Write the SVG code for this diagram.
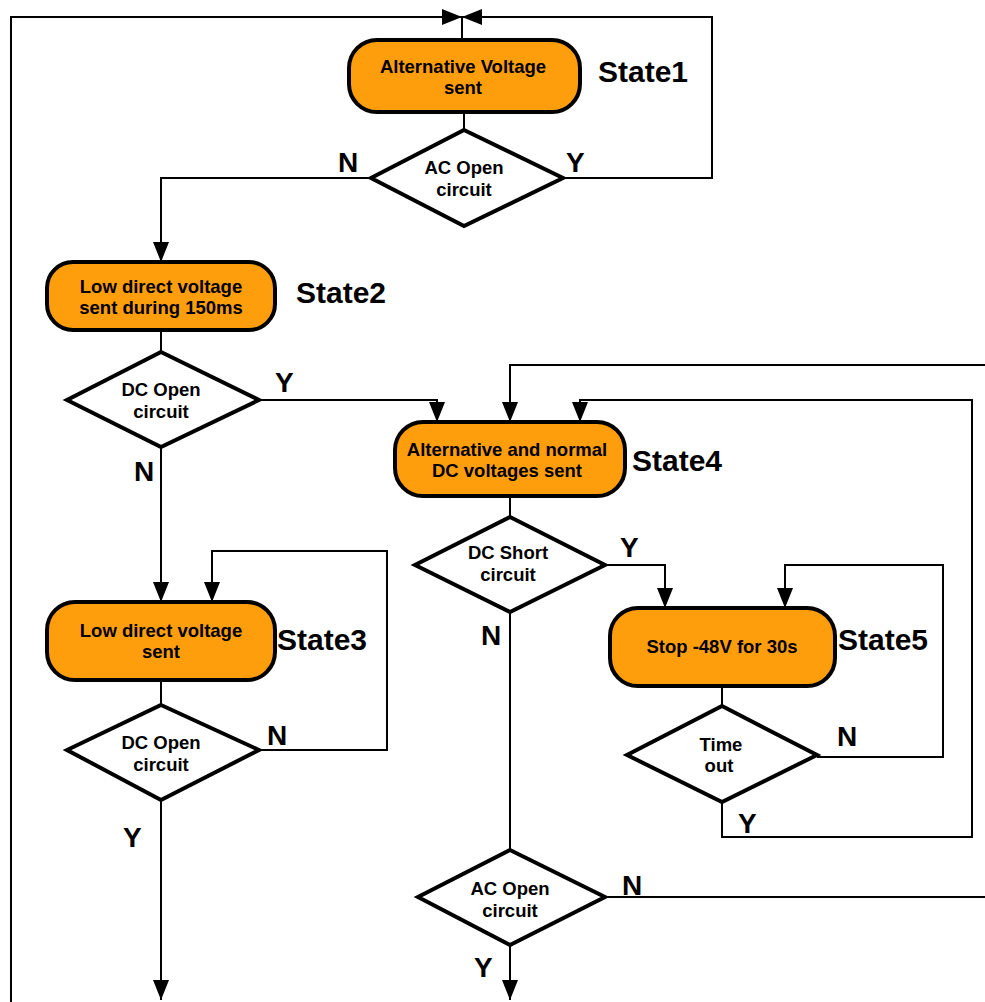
<svg xmlns="http://www.w3.org/2000/svg" width="985" height="1002" viewBox="0 0 985 1002">
<style>
.box{fill:#FF9E0D;stroke:#000;stroke-width:4}
.dia{fill:#fff;stroke:#000;stroke-width:4}
.c{fill:none;stroke:#000;stroke-width:2}
.t{font-family:"Liberation Sans",Arial,sans-serif;font-weight:bold;font-size:18.5px;text-anchor:middle;fill:#000}
.s{font-family:"Liberation Sans",Arial,sans-serif;font-weight:bold;font-size:30px;fill:#000}
.yn{font-family:"Liberation Sans",Arial,sans-serif;font-weight:bold;font-size:28px;fill:#000}
</style>
<defs>
<marker id="ah" viewBox="0 0 20 16" refX="20" refY="8" markerWidth="20" markerHeight="16" markerUnits="userSpaceOnUse" orient="auto">
<path d="M0,0 L20,8 L0,16 z" fill="#000"/>
</marker>
</defs>
<rect width="985" height="1002" fill="#fff"/>
<g id="connectors">
<path class="c" d="M11,1002 L11,17 L462,17" marker-end="url(#ah)"/>
<path class="c" d="M563,178 L712,178 L712,17 L462,17" marker-end="url(#ah)"/>
<path class="c" d="M462,17 L462,40"/>
<path class="c" d="M464,112 L464,130"/>
<path class="c" d="M371,178 L161,178 L161,262" marker-end="url(#ah)"/>
<path class="c" d="M161,330 L161,352"/>
<path class="c" d="M259,400 L437,400 L437,422" marker-end="url(#ah)"/>
<path class="c" d="M161,447 L161,602" marker-end="url(#ah)"/>
<path class="c" d="M161,680 L161,705"/>
<path class="c" d="M259,750 L387,750 L387,551 L212,551 L212,602" marker-end="url(#ah)"/>
<path class="c" d="M161,800 L161,1000" marker-end="url(#ah)"/>
<path class="c" d="M985,365 L510,365 L510,422" marker-end="url(#ah)"/>
<path class="c" d="M722,802 L722,837 L972,837 L972,400 L580,400 L580,422" marker-end="url(#ah)"/>
<path class="c" d="M510,496 L510,517"/>
<path class="c" d="M605,565 L665,565 L665,608" marker-end="url(#ah)"/>
<path class="c" d="M817,757 L943,757 L943,565 L785,565 L785,608" marker-end="url(#ah)"/>
<path class="c" d="M722,686 L722,706"/>
<path class="c" d="M510,612 L510,850"/>
<path class="c" d="M605,897 L985,897"/>
<path class="c" d="M510,945 L510,1000" marker-end="url(#ah)"/>
</g>
<g id="state1">
<rect class="box" x="349" y="40" width="231" height="72" rx="28"/>
<text class="t" x="463" y="73">Alternative Voltage</text>
<text class="t" x="463" y="94">sent</text>
<text class="s" x="598" y="82">State1</text>
</g>
<g id="ac-open-1">
<polygon class="dia" points="464,130 563,178 464,226 371,178"/>
<text class="t" x="464" y="174">AC Open</text>
<text class="t" x="464" y="196">circuit</text>
</g>
<g id="state2">
<rect class="box" x="47" y="262" width="228" height="68" rx="26"/>
<text class="t" x="161" y="293">Low direct voltage</text>
<text class="t" x="161" y="314">sent during 150ms</text>
<text class="s" x="296" y="303">State2</text>
</g>
<g id="dc-open-1">
<polygon class="dia" points="161,352 259,400 161,447 67,400"/>
<text class="t" x="161" y="396">DC Open</text>
<text class="t" x="161" y="418">circuit</text>
</g>
<g id="state3">
<rect class="box" x="47" y="602" width="228" height="78" rx="28"/>
<text class="t" x="161" y="637">Low direct voltage</text>
<text class="t" x="161" y="658">sent</text>
<text class="s" x="277" y="650">State3</text>
</g>
<g id="dc-open-2">
<polygon class="dia" points="161,705 259,750 161,800 67,750"/>
<text class="t" x="161" y="749">DC Open</text>
<text class="t" x="161" y="771">circuit</text>
</g>
<g id="state4">
<rect class="box" x="395" y="422" width="230" height="74" rx="28"/>
<text class="t" x="507" y="456">Alternative and normal</text>
<text class="t" x="507" y="477">DC voltages sent</text>
<text class="s" x="632" y="471">State4</text>
</g>
<g id="dc-short">
<polygon class="dia" points="510,517 605,565 510,612 415,565"/>
<text class="t" x="508" y="559">DC Short</text>
<text class="t" x="508" y="581">circuit</text>
</g>
<g id="state5">
<rect class="box" x="610" y="608" width="225" height="78" rx="28"/>
<text class="t" x="722" y="653">Stop -48V for 30s</text>
<text class="s" x="838" y="650">State5</text>
</g>
<g id="time-out">
<polygon class="dia" points="722,706 817,755 722,802 627,755"/>
<text class="t" x="721" y="751">Time</text>
<text class="t" x="719" y="772">out</text>
</g>
<g id="ac-open-2">
<polygon class="dia" points="510,850 605,897 510,945 418,897"/>
<text class="t" x="510" y="895">AC Open</text>
<text class="t" x="510" y="917">circuit</text>
</g>
<g id="labels">
<text class="yn" x="338" y="172">N</text>
<text class="yn" x="566" y="172">Y</text>
<text class="yn" x="275" y="392">Y</text>
<text class="yn" x="134" y="481">N</text>
<text class="yn" x="267" y="745">N</text>
<text class="yn" x="123" y="847">Y</text>
<text class="yn" x="620" y="557">Y</text>
<text class="yn" x="481" y="645">N</text>
<text class="yn" x="837" y="746">N</text>
<text class="yn" x="738" y="833">Y</text>
<text class="yn" x="622" y="895">N</text>
<text class="yn" x="474" y="977">Y</text>
</g>
</svg>
